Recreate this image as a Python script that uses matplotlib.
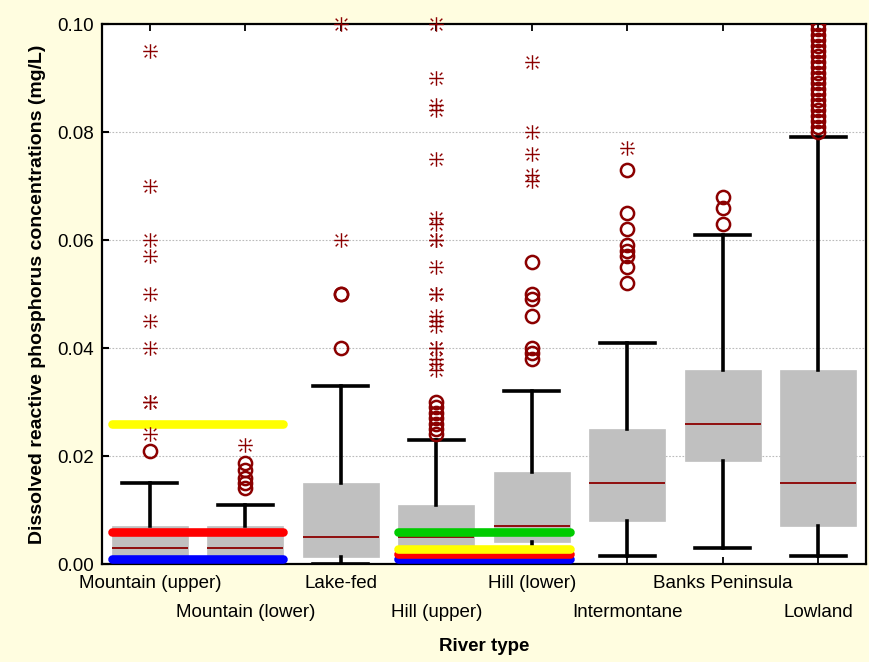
import numpy as np
import matplotlib
matplotlib.use('Agg')
import matplotlib.pyplot as plt
from matplotlib.path import Path

plt.rcParams['font.family'] = ['Liberation Sans', 'DejaVu Sans']

categories = ['Mountain (upper)', 'Mountain (lower)', 'Lake-fed', 'Hill (upper)',
              'Hill (lower)', 'Intermontane', 'Banks Peninsula', 'Lowland']

# box statistics (mg/L)
whis_lo = [0.000, 0.001, 0.000, 0.001, 0.001, 0.0015, 0.003, 0.0015]
q1 = [0.001, 0.001, 0.0013, 0.002, 0.004, 0.008, 0.019, 0.007]
median = [0.003, 0.003, 0.005, 0.005, 0.007, 0.015, 0.026, 0.015]
q3 = [0.007, 0.007, 0.015, 0.011, 0.017, 0.025, 0.036, 0.036]
whis_hi = [0.015, 0.011, 0.033, 0.023, 0.032, 0.041, 0.061, 0.079]

# outliers (circles)
outliers = [
    [0.021],
    [0.014, 0.015, 0.016, 0.0174, 0.0187],
    [0.040, 0.050, 0.050],
    [0.024, 0.025, 0.026, 0.027, 0.028, 0.029, 0.030],
    [0.038, 0.039, 0.040, 0.046, 0.049, 0.050, 0.056],
    [0.052, 0.055, 0.057, 0.058, 0.059, 0.062, 0.065, 0.073],
    [0.063, 0.066, 0.068],
    [0.080, 0.081, 0.082, 0.083, 0.084, 0.085, 0.086, 0.087, 0.088, 0.089, 0.090,
     0.091, 0.092, 0.093, 0.094, 0.095, 0.096, 0.097, 0.098, 0.099, 0.100],
]

# extremes (stars)
extremes = [
    [0.024, 0.030, 0.030, 0.040, 0.045, 0.050, 0.057, 0.060, 0.070, 0.095],
    [0.022],
    [0.060, 0.100],
    [0.036, 0.037, 0.038, 0.040, 0.040, 0.044, 0.045, 0.046, 0.050, 0.050, 0.055,
     0.060, 0.060, 0.063, 0.064, 0.075, 0.084, 0.085, 0.090, 0.100],
    [0.071, 0.072, 0.076, 0.080, 0.093],
    [0.077],
    [],
    [],
]

# guideline levels, grouped by the categories they span
mountain_span = [0, 1]
mountain_levels = {'#0000FF': 0.001, '#FF0000': 0.006, '#FFFF00': 0.026}
hill_span = [3, 4]
hill_levels = {'#0000FF': 0.001, '#FF0000': 0.0018, '#FFFF00': 0.0028, '#00CC00': 0.006}

dark_red = '#8B0000'

# star marker: plus with short diagonal ticks at the corners
verts, codes = [], []
for a, b in [((-1, 0), (1, 0)), ((0, -1), (0, 1)),
             ((0.45, 0.45), (0.8, 0.8)), ((-0.45, 0.45), (-0.8, 0.8)),
             ((0.45, -0.45), (0.8, -0.8)), ((-0.45, -0.45), (-0.8, -0.8))]:
    verts += [a, b]
    codes += [Path.MOVETO, Path.LINETO]
star = Path(verts, codes)

fig = plt.figure(figsize=(8.69, 6.62), dpi=100, facecolor='#FFFDE0')
ax = fig.add_axes([0.1174, 0.148, 0.8791, 0.8157])

pos = np.arange(1, len(categories) + 1)
stats = []
for i in range(len(categories)):
    stats.append(dict(med=median[i], q1=q1[i], q3=q3[i], whislo=whis_lo[i],
                      whishi=whis_hi[i], fliers=outliers[i]))

ax.bxp(stats, positions=pos, widths=0.8, capwidths=0.58, patch_artist=True,
       boxprops=dict(facecolor='#C0C0C0', edgecolor='#C0C0C0', linewidth=0.5),
       medianprops=dict(color=dark_red, linewidth=1.3),
       whiskerprops=dict(color='black', linewidth=2.6),
       capprops=dict(color='black', linewidth=2.6),
       flierprops=dict(marker='o', markerfacecolor='none', markeredgecolor=dark_red,
                       markersize=9.5, markeredgewidth=1.8, zorder=5))

for i in range(len(categories)):
    if extremes[i]:
        ax.plot([pos[i]] * len(extremes[i]), extremes[i], linestyle='none',
                marker=star, markersize=10.5, markeredgewidth=1.0,
                color=dark_red, zorder=5, clip_on=False)

for span, levels in [(mountain_span, mountain_levels), (hill_span, hill_levels)]:
    x0 = pos[span[0]] - 0.4
    x1 = pos[span[-1]] + 0.4
    for col, lev in levels.items():
        ax.plot([x0, x1], [lev, lev], color=col, linewidth=6.2,
                solid_capstyle='round', zorder=4)

ax.set_xlim(0.5, len(categories) + 0.5)
ax.set_ylim(0, 0.1)
ax.set_yticks([0.0, 0.02, 0.04, 0.06, 0.08, 0.10])
ax.set_yticklabels(['0.00', '0.02', '0.04', '0.06', '0.08', '0.10'])
ax.set_xticks(pos)
ax.set_xticklabels(categories)
ax.yaxis.grid(True, linestyle=(0, (1.5, 1.5)), color='#BBBBBB', linewidth=0.8)
ax.set_axisbelow(True)

ax.tick_params(axis='x', direction='in', top=True, length=5, width=1.3,
               labelsize=13.5, pad=8)
ax.tick_params(axis='y', direction='in', length=5, width=1.5, labelsize=13.5, pad=6)
for i, t in enumerate(ax.xaxis.get_major_ticks()):
    if i % 2 == 1:
        t.set_pad(29)

for s in ax.spines.values():
    s.set_linewidth(1.6)

ax.set_xlabel('River type', fontsize=13.5, fontweight='bold', labelpad=12)
ax.set_ylabel('Dissolved reactive phosphorus concentrations (mg/L)', fontsize=14,
              fontweight='bold', labelpad=8)

plt.savefig('out.png', dpi=100, facecolor=fig.get_facecolor())
